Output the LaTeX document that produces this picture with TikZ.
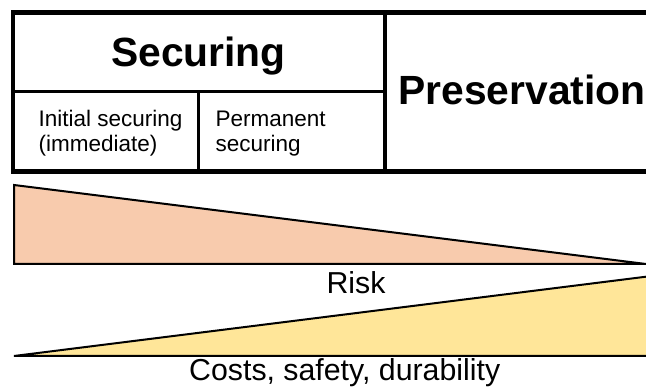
\documentclass[tikz,border=0pt]{standalone}
\usepackage{fontspec}
\setmainfont{Liberation Sans}
\definecolor{riskfill}{HTML}{F8CBAD}
\definecolor{costfill}{HTML}{FFE699}
\begin{document}
\begin{tikzpicture}[x=1pt,y=-1pt,
  frame/.style={line width=4.5pt},
  rowrule/.style={line width=3.5pt},
  colrule/.style={line width=4pt},
  subrule/.style={line width=2.5pt},
  wedge/.style={draw=black,line width=2pt,line join=miter},
  label/.style={inner sep=0pt,outer sep=0pt},
  big/.style={label,font=\fontsize{40.8}{44}\selectfont\bfseries},
  small/.style={label,align=left,font=\fontsize{22.5}{25}\selectfont},
  caption/.style={label,font=\fontsize{30.3}{33}\selectfont}]
\useasboundingbox (0,0) rectangle (646,387);
\clip (0,0) rectangle (646,387);

% table frame and rules
\draw[frame] (13,12.5) -- (660,12.5);
\draw[frame] (13,171.5) -- (660,171.5);
\draw[frame] (13,10.25) -- (13,173.75);
\draw[rowrule] (13,91.5) -- (384.5,91.5);
\draw[colrule] (384.5,12.5) -- (384.5,171.5);
\draw[subrule] (198.5,91.5) -- (198.5,171.5);

% header texts
\node[big,anchor=base] (securing) at (198.5,67) {Securing};
\node[big,anchor=base west] (preservation) at (398.5,104.5) {Preservation};
% two-line cells: the base anchor sits on the second line
\node[small,anchor=base west] (initial) at (38.7,151.7) {Initial securing\\(immediate)};
\node[small,anchor=base west] (permanent) at (215.5,151.7) {Permanent\\securing};

% decreasing risk wedge
\draw[wedge,fill=riskfill] (14,185) -- (646,264) -- (14,264) -- cycle;
\node[caption,anchor=base] (risk) at (356,294) {Risk};

% increasing cost wedge
\draw[wedge,fill=costfill] (14,356) -- (650,276.2) -- (650,356) -- cycle;
\node[caption,anchor=base] (costs) at (344.7,381) {Costs, safety, durability};
\end{tikzpicture}
\end{document}
